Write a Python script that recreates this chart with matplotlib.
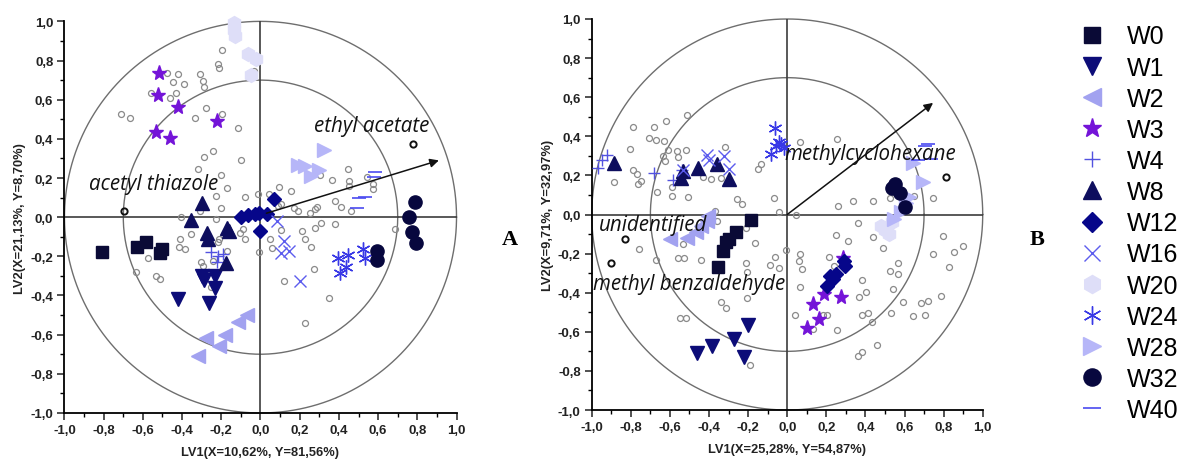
import numpy as np
import matplotlib
matplotlib.use('Agg')
import matplotlib.pyplot as plt
from matplotlib.ticker import FuncFormatter, MultipleLocator

# ---------------- data ----------------------------------------------------
GROUPS = ['W0', 'W1', 'W2', 'W3', 'W4', 'W8', 'W12', 'W16', 'W20', 'W24',
          'W28', 'W32', 'W40']

# panel A (LV1 x LV2)
A_W0 = [(-0.81, -0.177), (-0.632, -0.15), (-0.585, -0.126), (-0.513, -0.185),
        (-0.505, -0.16)]
A_W1 = [(-0.30, -0.30), (-0.29, -0.32), (-0.23, -0.30), (-0.23, -0.36),
        (-0.42, -0.42), (-0.265, -0.44)]
A_W2 = [(-0.276, -0.619), (-0.321, -0.707), (-0.213, -0.66), (-0.179, -0.602),
        (-0.114, -0.534), (-0.07, -0.50)]
A_W3 = [(-0.516, 0.738), (-0.525, 0.622), (-0.42, 0.563), (-0.223, 0.491),
        (-0.533, 0.435), (-0.462, 0.403)]
A_W4 = [(-0.253, -0.176), (-0.215, -0.197), (-0.22, -0.23), (-0.19, -0.19)]
A_W8 = [(-0.298, 0.073), (-0.353, -0.012), (-0.271, -0.083), (-0.27, -0.11),
        (-0.17, -0.053), (-0.16, -0.07), (-0.178, -0.236)]
A_W12 = [(-0.10, 0.0), (-0.065, 0.009), (-0.03, 0.015), (-0.008, 0.02),
         (0.035, 0.018), (0.068, 0.094), (-0.002, -0.07)]
A_W16 = [(0.085, -0.017), (0.122, -0.12), (0.103, -0.183), (0.145, -0.172),
         (0.204, -0.325)]
A_W20 = [(-0.135, 0.99), (-0.133, 0.955), (-0.128, 0.925), (-0.063, 0.832),
         (-0.022, 0.808), (-0.05, 0.725)]
A_W24 = [(0.395, -0.206), (0.446, -0.192), (0.438, -0.254), (0.404, -0.287),
         (0.523, -0.163), (0.535, -0.206)]
A_W28 = [(0.322, 0.343), (0.192, 0.267), (0.226, 0.262), (0.30, 0.24),
         (0.26, 0.21)]
A_W32 = [(0.789, 0.075), (0.759, 0.002), (0.774, -0.078), (0.792, -0.13),
         (0.596, -0.172), (0.596, -0.219)]
A_W40 = [(0.584, 0.23), (0.58, 0.203), (0.533, 0.104), (0.50, 0.10),
         (0.49, 0.048)]

A_VARS_X = [-0.198, -0.215, -0.212, -0.476, -0.419, -0.308, -0.447, -0.39,
            -0.291, -0.288, -0.56, -0.431, -0.462, -0.713, -0.665, -0.334,
            -0.279, -0.194, -0.116, -0.24, -0.288, -0.101, -0.317, -0.2,
            -0.227, -0.169, -0.079, -0.011, -0.2, -0.032, -0.406, -0.31,
            -0.228,
            0.446, 0.45, 0.45, 0.365, 0.302, 0.545, 0.574, 0.574, 0.157,
            0.093, 0.378, 0.412, 0.29, 0.28, 0.251, 0.191, 0.171, 0.463,
            0.089, 0.044, 0.107,
            -0.412, -0.415, -0.386, -0.573, -0.636, -0.534, -0.514, -0.352,
            -0.301, -0.295, -0.241, -0.173, -0.216, -0.105, -0.088, -0.08,
            -0.009, -0.255, -0.21,
            0.051, 0.061, 0.103, 0.212, 0.226, 0.256, 0.276, 0.307, 0.382,
            0.685, 0.273, 0.12, 0.348, 0.225]
A_VARS_Y = [0.852, 0.784, 0.764, 0.738, 0.729, 0.732, 0.689, 0.682,
            0.695, 0.665, 0.636, 0.636, 0.61, 0.529, 0.505, 0.508,
            0.556, 0.529, 0.457, 0.338, 0.308, 0.292, 0.248, 0.214,
            0.109, 0.148, 0.104, 0.117, 0.049, 0.748, 0.0, 0.031,
            -0.008,
            0.248, 0.184, 0.159, 0.189, 0.216, 0.205, 0.168, 0.143, 0.134,
            0.152, 0.083, 0.053, 0.054, 0.044, 0.02, 0.032, 0.049, 0.032,
            0.057, 0.119, 0.068,
            -0.109, -0.15, -0.16, -0.206, -0.279, -0.3, -0.316, -0.087,
            -0.228, -0.248, -0.223, -0.175, -0.129, -0.082, -0.061, -0.112,
            -0.18, -0.359, -0.112,
            -0.109, -0.155, -0.066, -0.07, -0.112, -0.152, -0.053, -0.032,
            -0.036, -0.061, -0.265, -0.325, -0.415, -0.538]

A_LABELLED_X = [0.776, -0.697]
A_LABELLED_Y = [0.374, 0.031]
A_ARROW = (0.03, 0.02, 0.91, 0.29)
A_TEXT = ['ethyl acetate', 'acetyl thiazole']
A_TEXT_XY = [(0.275, 0.47), (-0.875, 0.17)]

# panel B
B_W0 = [(-0.186, -0.027), (-0.262, -0.087), (-0.298, -0.126), (-0.315, -0.143),
        (-0.327, -0.186), (-0.353, -0.266)]
B_W1 = [(-0.199, -0.564), (-0.271, -0.637), (-0.383, -0.671), (-0.463, -0.709),
        (-0.221, -0.731)]
B_W2 = [(-0.598, -0.125), (-0.515, -0.12), (-0.465, -0.088), (-0.41, -0.035),
        (-0.405, -0.008), (-0.44, -0.06)]
B_W3 = [(0.13, -0.458), (0.187, -0.407), (0.274, -0.424), (0.162, -0.535),
        (0.10, -0.581), (0.285, -0.22)]
B_W4 = [(-0.97, 0.24), (-0.95, 0.28), (-0.924, 0.302), (-0.68, 0.21),
        (-0.585, 0.179), (-0.54, 0.228)]
B_W8 = [(-0.886, 0.262), (-0.535, 0.221), (-0.543, 0.187), (-0.455, 0.239),
        (-0.358, 0.259), (-0.296, 0.182)]
B_W12 = [(0.29, -0.236), (0.295, -0.265), (0.25, -0.305), (0.217, -0.313),
         (0.205, -0.366), (0.235, -0.33)]
B_W16 = [(-0.412, 0.305), (-0.398, 0.28), (-0.322, 0.297), (-0.296, 0.232),
         (-0.535, 0.23)]
B_W20 = [(0.48, -0.058), (0.52, -0.098), (0.50, -0.078), (0.535, -0.04)]
B_W24 = [(-0.061, 0.44), (-0.042, 0.371), (-0.084, 0.312), (-0.058, 0.35),
         (-0.015, 0.342), (-0.03, 0.362)]
B_W28 = [(0.642, 0.262), (0.695, 0.168), (0.624, 0.088), (0.582, 0.012),
         (0.548, -0.024), (0.61, 0.058)]
B_W32 = [(0.55, 0.158), (0.538, 0.138), (0.577, 0.111), (0.60, 0.037)]
B_W40 = [(0.718, 0.363), (0.705, 0.35), (0.668, 0.28), (0.738, 0.284)]

B_VARS_X = [-0.513, -0.619, -0.788, -0.681, -0.709, -0.673, -0.802, -0.632,
            -0.61, -0.516, -0.562, -0.559, -0.635, -0.627, -0.788, -0.767,
            -0.75, -0.764, -0.886, -0.666, -0.588, -0.588, -0.508, -0.431,
            -0.388, -0.32, -0.337, -0.255, -0.231, -0.149, -0.136, -0.068,
            -0.044, -0.371,
            0.065, 0.257, 0.262, 0.338, 0.437, 0.525, 0.65, 0.747, 0.044,
            -0.76, -0.673, -0.559, -0.528, -0.533, -0.44, -0.358, -0.306,
            -0.209, -0.166, -0.209, -0.204, -0.204, -0.338, -0.314, -0.546,
            -0.516, -0.192, -0.09, -0.061, -0.044, -0.005,
            0.36, 0.252, 0.309, 0.44, 0.491, 0.795, 0.9, 0.854, 0.747, 0.829,
            0.065, 0.058, 0.075, 0.065, 0.215, 0.237, 0.568, 0.569, 0.527,
            0.385, 0.402, 0.365, 0.542, 0.593, 0.684, 0.718, 0.786, 0.041,
            0.181, 0.206, 0.133, 0.257, 0.382, 0.411, 0.53, 0.641, 0.706,
            0.433, 0.457, 0.385, 0.36]
B_VARS_Y = [0.509, 0.479, 0.449, 0.446, 0.389, 0.381, 0.335, 0.376,
            0.33, 0.331, 0.325, 0.296, 0.301, 0.275, 0.228, 0.207,
            0.173, 0.156, 0.168, 0.113, 0.139, 0.097, 0.091, 0.193,
            0.181, 0.343, 0.187, 0.081, 0.055, 0.232, 0.258, 0.084,
            0.011, 0.02,
            0.372, 0.388, 0.041, 0.069, 0.069, 0.083, 0.093, 0.084, -0.004,
            -0.178, -0.235, -0.222, -0.222, -0.153, -0.231, -0.033, -0.118,
            -0.07, -0.146, -0.246, -0.295, -0.429, -0.446, -0.48, -0.527,
            -0.527, -0.769, -0.257, -0.218, -0.276, -0.179,
            -0.046, -0.103, -0.136, -0.114, -0.171, -0.109, -0.162, -0.19,
            -0.202, -0.271,
            -0.2, -0.24, -0.279, -0.371, -0.219, -0.262, -0.247, -0.305,
            -0.291, -0.337, -0.395, -0.422, -0.379, -0.446, -0.452, -0.443,
            -0.415, -0.515, -0.515, -0.515, -0.588, -0.59, -0.515, -0.505,
            -0.502, -0.517, -0.515, -0.551, -0.668, -0.702, -0.722]

B_LABELLED_X = [0.811, -0.828, -0.903]
B_LABELLED_Y = [0.191, -0.127, -0.246]
B_ARROW = (0.0, 0.0, 0.746, 0.571)
B_TEXT = ['methylcyclohexane', 'unidentified', 'methyl benzaldehyde']
B_TEXT_XY = [(-0.015, 0.31), (-0.965, -0.05), (-0.995, -0.355)]

A_LABELS = ('LV1(X=10,62%, Y=81,56%)', 'LV2(X=21,13%, Y=8,70%)')
B_LABELS = ('LV1(X=25,28%, Y=54,87%)', 'LV2(X=9,71%, Y=32,97%)')

# ---------------- styles ----------------------------------------------------
STYLE = {
    'W0':  dict(marker='s', color='#0a0a36', ms=8.5),
    'W1':  dict(marker='v', color='#0c0c78', ms=10),
    'W2':  dict(marker='<', color='#a2a2f0', ms=10),
    'W3':  dict(marker='*', color='#7414d8', ms=11),
    'W4':  dict(marker='+', color='#5252e0', ms=9, mew=1.0),
    'W8':  dict(marker='^', color='#0e0e5e', ms=10),
    'W12': dict(marker='D', color='#06068a', ms=7.5),
    'W16': dict(marker='x', color='#5c5cee', ms=8.5, mew=1.0),
    'W20': dict(marker='h', color='#dedef8', ms=10),
    'W24': dict(marker=(6, 2, 0), color='#3838e6', ms=10, mew=1.0),
    'W28': dict(marker='>', color='#b6b6f8', ms=10),
    'W32': dict(marker='o', color='#07073e', ms=9.5),
    'W40': dict(marker='_', color='#4a4af0', ms=10, mew=1.2),
}

A_SERIES = [A_W0, A_W1, A_W2, A_W3, A_W4, A_W8, A_W12, A_W16, A_W20, A_W24,
            A_W28, A_W32, A_W40]
B_SERIES = [B_W0, B_W1, B_W2, B_W3, B_W4, B_W8, B_W12, B_W16, B_W20, B_W24,
            B_W28, B_W32, B_W40]

comma = FuncFormatter(lambda v, p: f'{v:.1f}'.replace('.', ','))
TICKFONT = dict(family='Liberation Sans', weight='bold', size=9.5)


def draw_panel(ax, series, vx, vy, lx, ly, arrow, texts, text_xy, labels):
    t = np.linspace(0, 2 * np.pi, 400)
    for r in (1.0, 0.7):
        ax.plot(r * np.cos(t), r * np.sin(t), color='#6e6e6e', lw=1.0,
                zorder=1, clip_on=False)
    ax.plot([-1, 1], [0, 0], color='#3c3c3c', lw=1.2, zorder=1)
    ax.plot([0, 0], [-1, 1], color='#3c3c3c', lw=1.2, zorder=1)

    ax.plot(vx, vy, ls='none', marker='o', ms=4.3, mfc='none', mec='#8a8a8a',
            mew=0.9, zorder=2)
    ax.plot(lx, ly, ls='none', marker='o', ms=4.5, mfc='none', mec='#111111',
            mew=1.4, zorder=2)

    handles = []
    for name, pts in zip(GROUPS, series):
        st = dict(STYLE[name])
        col = st.pop('color')
        xs = [p[0] for p in pts]
        ys = [p[1] for p in pts]
        h, = ax.plot(xs, ys, ls='none', mfc=col, mec=col, zorder=3,
                     clip_on=False, label=name, **st)
        handles.append(h)

    x0, y0, x1, y1 = arrow
    ax.annotate('', xy=(x1, y1), xytext=(x0, y0), zorder=4,
                arrowprops=dict(arrowstyle='-|>', color='#111111', lw=1.1,
                                mutation_scale=13, shrinkA=0, shrinkB=0))
    for s, (tx, ty) in zip(texts, text_xy):
        ax.text(tx, ty, s, ha='left', va='center', fontsize=14.8,
                family='Open Sans', style='italic', color='#111111', zorder=5)

    ax.set_xlim(-1, 1)
    ax.set_ylim(-1, 1)
    for side in ('top', 'right'):
        ax.spines[side].set_visible(False)
    for side in ('left', 'bottom'):
        ax.spines[side].set_linewidth(1.3)
    ax.xaxis.set_major_locator(MultipleLocator(0.2))
    ax.yaxis.set_major_locator(MultipleLocator(0.2))
    ax.xaxis.set_minor_locator(MultipleLocator(0.1))
    ax.yaxis.set_minor_locator(MultipleLocator(0.1))
    ax.xaxis.set_major_formatter(comma)
    ax.yaxis.set_major_formatter(comma)
    ax.tick_params(which='major', direction='out', length=5, width=1.1,
                   colors='#222222', pad=3)
    ax.tick_params(which='minor', direction='out', length=3, width=1.0)
    for lab in ax.get_xticklabels() + ax.get_yticklabels():
        lab.set_fontproperties(TICKFONT)
    ax.set_xlabel(labels[0], fontsize=9.3, family='Liberation Sans',
                  weight='bold', color='#222222', labelpad=7)
    ax.set_ylabel(labels[1], fontsize=9.3, family='Liberation Sans',
                  weight='bold', color='#222222', labelpad=3)
    return handles


fig = plt.figure(figsize=(11.83, 4.64), dpi=100)
axA = fig.add_axes([0.0545, 0.1078, 0.3314, 0.844])
axB = fig.add_axes([0.5002, 0.1142, 0.3305, 0.8427])

hA = draw_panel(axA, A_SERIES, A_VARS_X, A_VARS_Y, A_LABELLED_X, A_LABELLED_Y,
                A_ARROW, A_TEXT, A_TEXT_XY, A_LABELS)
draw_panel(axB, B_SERIES, B_VARS_X, B_VARS_Y, B_LABELLED_X, B_LABELLED_Y,
           B_ARROW, B_TEXT, B_TEXT_XY, B_LABELS)

fig.text(510 / 1183, 1 - 240 / 464, 'A', family='Liberation Serif',
         weight='bold', fontsize=16, ha='center', va='center')
fig.text(1037 / 1183, 1 - 240 / 464, 'B', family='Liberation Serif',
         weight='bold', fontsize=16, ha='center', va='center')

fig.legend(handles=hA, labels=GROUPS, loc='upper left',
           bbox_to_anchor=(1067 / 1183, 1 - 13 / 464), frameon=False,
           prop=dict(family='Liberation Sans', size=18), labelspacing=0.285,
           handlelength=1.0, handletextpad=0.9, borderpad=0, markerscale=1.3)

fig.savefig('out.png', dpi=100)
